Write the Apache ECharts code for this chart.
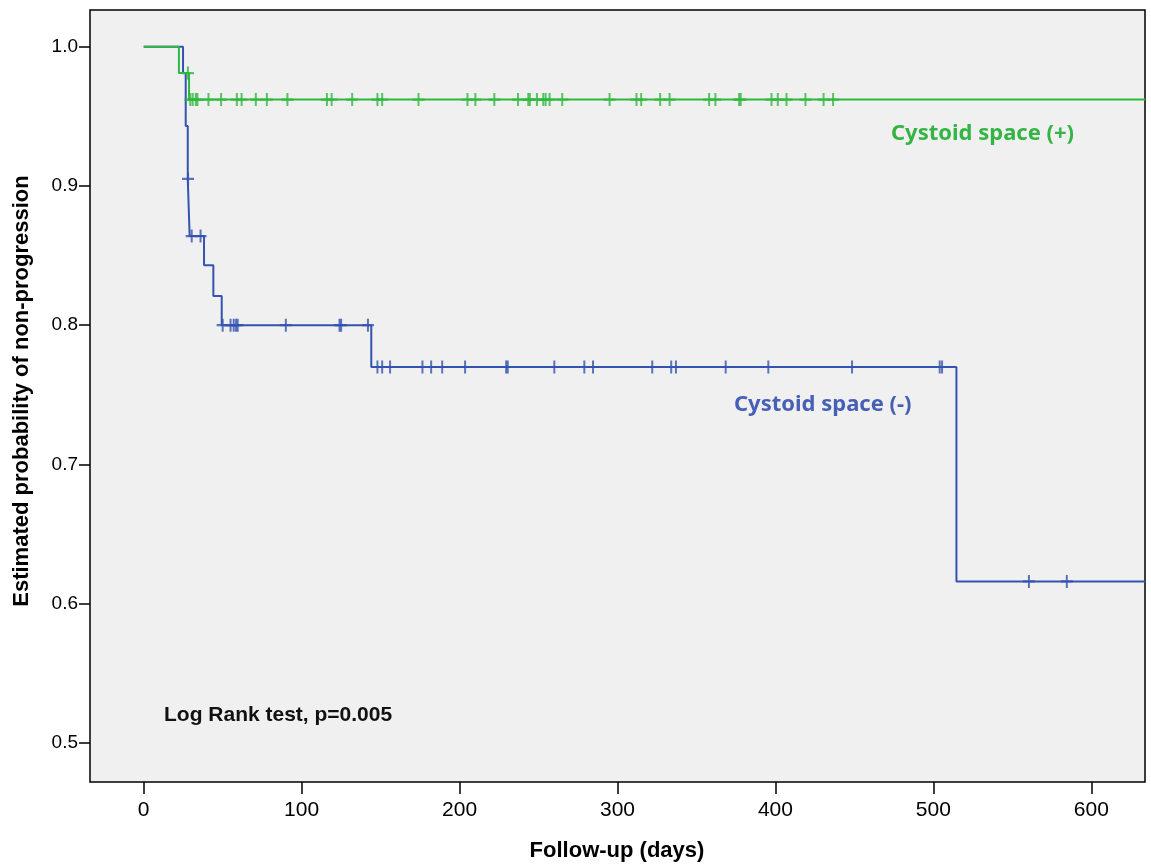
<!DOCTYPE html>
<html><head><meta charset="utf-8">
<script src="https://cdn.jsdelivr.net/npm/echarts@6/dist/echarts.min.js"></script>
<style>html,body{margin:0;padding:0;background:#fff}#c{width:1151px;height:864px}</style>
</head><body><div id="c"></div><script>
// ---- data ----
const xTicks = [0, 100, 200, 300, 400, 500, 600];
const yTicks = [0.5, 0.6, 0.7, 0.8, 0.9, 1.0];
const xRange = [-34, 634];
const yRange = [0.472, 1.0263];

const posEventTimes = [0, 22.3, 28.7];
const posSurvival   = [1.0, 0.981, 0.962];
const posCensorTimes = [28, 29.5, 31, 33, 34, 41, 49, 59, 62, 71, 78, 91, 116, 119, 132, 148, 151, 174,
  205, 210, 222, 237, 243.5, 244.5, 249, 253, 254.5, 257, 265, 295, 312, 315, 327, 333, 358, 362,
  377, 378, 397.5, 401.5, 407, 419, 430.5, 436.5];

const negEventTimes = [0, 24.9, 26.6, 27.9, 29.1, 38.2, 44.1, 49.4, 144.1, 514.6];
const negSurvival   = [1.0, 0.981, 0.943, 0.905, 0.864, 0.843, 0.821, 0.800, 0.770, 0.616];
const negCensorTimes = [28.1, 30.4, 36, 50, 55, 57, 58.5, 59.5, 90, 124, 125, 142, 148, 151, 156, 176.5,
  182, 189, 203.5, 229.5, 230.5, 260, 279, 284.5, 322, 334, 337, 368.5, 395.5, 448.5, 504, 505.5,
  560.5, 584.5];

const labels = {
  pos: 'Cystoid space (+)',
  neg: 'Cystoid space (-)',
  test: 'Log Rank test, p=0.005',
  xTitle: 'Follow-up (days)',
  yTitle: 'Estimated probability of non-progression'
};

// ---- helpers ----
function survAt(t, times, surv) {
  let v = surv[0];
  for (let i = 0; i < times.length; i++) if (times[i] <= t) v = surv[i];
  return v;
}
function stepData(times, surv) {
  const d = times.map((t, i) => [t, surv[i]]);
  d.push([xRange[1], surv[surv.length - 1]]);
  return d;
}
function censorData(ct, times, surv) {
  return ct.map(t => [t, survAt(t, times, surv)]);
}

const GREEN = '#2fb83f', BLUE = '#3553b0';
const PLUS = 'path://M-1,-6H1V-1H6V1H1V6H-1V1H-6V-1H-1Z';

const chart = echarts.init(document.getElementById('c'));
chart.setOption({
  animation: false,
  backgroundColor: '#ffffff',
  grid: { left: 90, right: 6, top: 10, bottom: 82, show: true, backgroundColor: '#f0f0f0',
          borderColor: '#000', borderWidth: 1.5 },
  xAxis: {
    type: 'value', min: xRange[0], max: xRange[1],
    axisLine: { show: false, onZero: false },
    splitLine: { show: false },
    axisTick: { show: true, customValues: xTicks, length: 12, lineStyle: { color: '#000', width: 1.5 } },
    axisLabel: { customValues: xTicks, margin: 18, color: '#000',
                 fontFamily: 'Liberation Sans Narrow, Liberation Sans, Arial', fontSize: 21 }
  },
  yAxis: {
    type: 'value', min: yRange[0], max: yRange[1],
    axisLine: { show: false, onZero: false },
    splitLine: { show: false },
    axisTick: { show: true, customValues: yTicks, length: 11, lineStyle: { color: '#000', width: 1.5 } },
    axisLabel: { customValues: yTicks, margin: 12, color: '#000',
                 fontFamily: 'Liberation Sans, Arial', fontSize: 19,
                 formatter: v => v.toFixed(1) }
  },
  series: [
    { type: 'line', step: 'end', data: stepData(negEventTimes, negSurvival), showSymbol: false,
      lineStyle: { color: BLUE, width: 2 }, z: 2 },
    { type: 'scatter', data: censorData(negCensorTimes, negEventTimes, negSurvival),
      symbol: PLUS, symbolSize: [12, 13], itemStyle: { color: BLUE }, z: 3 },
    { type: 'line', step: 'end', data: stepData(posEventTimes, posSurvival), showSymbol: false,
      lineStyle: { color: GREEN, width: 2 }, z: 4 },
    { type: 'scatter', data: censorData(posCensorTimes, posEventTimes, posSurvival),
      symbol: PLUS, symbolSize: [12, 13], itemStyle: { color: GREEN }, z: 5 }
  ],
  graphic: [
    { type: 'text', left: 891, top: 123, z: 10,
      style: { text: labels.pos, fill: '#33b443', font: 'bold 22px "Noto Sans", sans-serif' } },
    { type: 'text', left: 734, top: 394, z: 10,
      style: { text: labels.neg, fill: '#4660b5', font: 'bold 22px "Noto Sans", sans-serif' } },
    { type: 'text', left: 164, top: 705, z: 10,
      style: { text: labels.test, fill: '#111', font: 'bold 21px "Liberation Sans", Arial, sans-serif' } },
    { type: 'text', x: 617, y: 851, z: 10,
      style: { text: labels.xTitle, fill: '#000', align: 'center', verticalAlign: 'middle',
               font: 'bold 22px "Liberation Sans Narrow", "Liberation Sans", Arial, sans-serif' } },
    { type: 'text', x: 22, y: 391, rotation: Math.PI / 2, z: 10,
      style: { text: labels.yTitle, fill: '#000', align: 'center', verticalAlign: 'middle',
               font: 'bold 22px "Liberation Sans Narrow", "Liberation Sans", Arial, sans-serif' } }
  ]
});
</script></body></html>
